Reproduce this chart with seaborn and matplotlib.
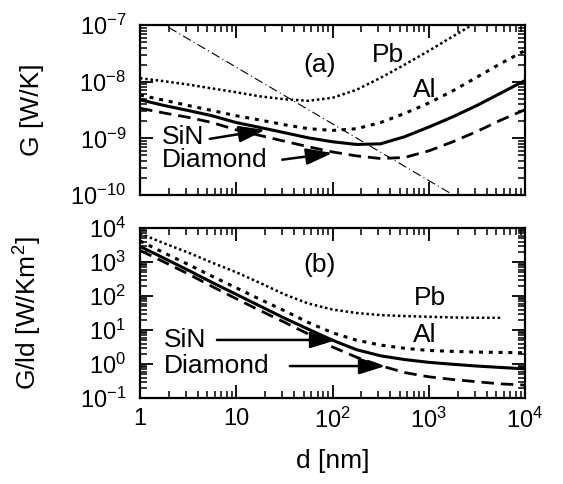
import matplotlib
matplotlib.use("Agg")
import numpy as np
import matplotlib.pyplot as plt
import matplotlib.ticker as mticker
import seaborn as sns

# ------------------------------------------------------------------
#  Data
# ------------------------------------------------------------------
d_nm = [1, 1.78, 3.16, 5.62, 10, 17.8, 31.6, 56.2, 100, 178, 316, 562,
        1000, 1780, 3160, 5620, 10000]

# panel (a): G [W/K]
G_pb = [1.15e-8, 1.02e-8, 8.9e-9, 7.6e-9, 6.5e-9, 5.5e-9, 4.9e-9, 4.6e-9,
        5.2e-9, 7.2e-9, 1.17e-8, 2.0e-8, 3.5e-8, 6.3e-8, 1.12e-7]
G_al = [5.8e-9, 4.7e-9, 3.8e-9, 3.1e-9, 2.5e-9, 2.1e-9, 1.74e-9, 1.48e-9,
        1.38e-9, 1.48e-9, 1.9e-9, 2.75e-9, 4.2e-9, 6.9e-9, 1.2e-8, 2.1e-8, 3.55e-8]
G_sin = [4.8e-9, 3.8e-9, 3.1e-9, 2.5e-9, 1.9e-9, 1.55e-9, 1.26e-9, 1.02e-9,
         8.7e-10, 7.8e-10, 8.0e-10, 1.07e-9, 1.58e-9, 2.4e-9, 3.8e-9, 6.3e-9, 1.05e-8]
G_dia = [3.4e-9, 2.8e-9, 2.35e-9, 1.9e-9, 1.41e-9, 1.12e-9, 8.9e-10, 7.1e-10,
         5.75e-10, 4.9e-10, 4.4e-10, 4.6e-10, 6.0e-10, 8.7e-10, 1.32e-9, 2.1e-9, 3.2e-9]
guide_d = [1, 10000]
guide_G = [1.8e-7, 1.8e-11]

# panel (b): G/ld [W/Km^2]
Gld_pb = [6900, 3550, 1900, 955, 500, 240, 112, 60, 40, 31.6, 27.5, 25.7,
          24.5, 23.4, 22.9, 22.9]
Gld_al = [4170, 1860, 850, 380, 174, 79, 37, 16.6, 8.3, 5.0, 3.6, 2.9,
          2.5, 2.35, 2.24, 2.19, 2.14]
Gld_sin = [2880, 1290, 575, 250, 112, 50, 22.4, 10.5, 5.0, 2.63, 1.74, 1.35,
           1.12, 0.98, 0.87, 0.79, 0.72]
Gld_dia = [2190, 1000, 447, 190, 83, 37, 17, 7.6, 3.16, 1.58, 0.89, 0.56,
           0.42, 0.35, 0.30, 0.26, 0.24]

# ------------------------------------------------------------------
#  Style
# ------------------------------------------------------------------
sns.set_style("ticks")
plt.rcParams["font.family"] = ["Liberation Sans", "DejaVu Sans"]
plt.rcParams["mathtext.fontset"] = "custom"
plt.rcParams["mathtext.rm"] = "Liberation Sans"
plt.rcParams["mathtext.it"] = "Liberation Sans:italic"
for key in ["text.color", "axes.labelcolor", "xtick.color", "ytick.color",
            "axes.edgecolor"]:
    plt.rcParams[key] = "black"
FS = 19    # annotations / axis labels
TS = 17    # tick labels

styles = {
    "Pb":      dict(linestyle=(0, (1, 1.1)), linewidth=1.8),
    "Al":      dict(linestyle=(0, (1.3, 1.9)), linewidth=2.2),
    "SiN":     dict(linestyle="-", linewidth=2.2),
    "Diamond": dict(linestyle=(0, (4.5, 2.5)), linewidth=2.0),
}


def pow10(v, pos):
    e = int(round(np.log10(v)))
    return r"$\mathregular{10^{%d}}$" % e


def xfmt(v, pos):
    e = int(round(np.log10(v)))
    if e == 0:
        return "1"
    if e == 1:
        return "10"
    return r"$\mathregular{10^{%d}}$" % e


def style_axis(ax):
    ax.set_xscale("log")
    ax.set_yscale("log")
    ax.set_xlim(1, 1e4)
    ax.xaxis.set_major_locator(mticker.LogLocator(base=10, numticks=10))
    ax.xaxis.set_minor_locator(mticker.LogLocator(base=10, subs=np.arange(2, 10), numticks=50))
    ax.yaxis.set_major_locator(mticker.LogLocator(base=10, numticks=10))
    ax.yaxis.set_minor_locator(mticker.LogLocator(base=10, subs=np.arange(2, 10), numticks=50))
    ax.yaxis.set_major_formatter(mticker.FuncFormatter(pow10))
    ax.tick_params(which="both", direction="in", top=True, right=True,
                   color="black", labelcolor="black", labelsize=TS)
    ax.tick_params(which="major", length=9.5, width=1.3)
    ax.tick_params(which="minor", length=5, width=1.1)
    ax.tick_params(axis="y", pad=10)
    ax.tick_params(axis="x", pad=7)
    for s in ax.spines.values():
        s.set_linewidth(1.6)
        s.set_color("black")


arrow = dict(arrowstyle="-|>,head_length=0.8,head_width=0.25", color="black",
             lw=1.8, mutation_scale=20, shrinkA=0, shrinkB=0)

fig = plt.figure(figsize=(5.63, 4.84), dpi=100)
ax_a = fig.add_axes([0.2487, 0.5971, 0.6838, 0.3512])
ax_b = fig.add_axes([0.2487, 0.1777, 0.6838, 0.3512])

# ---------------- panel (a) ----------------
sns.lineplot(x=d_nm[:len(G_pb)], y=G_pb, ax=ax_a, color="black", **styles["Pb"])
sns.lineplot(x=d_nm, y=G_al, ax=ax_a, color="black", **styles["Al"])
sns.lineplot(x=d_nm, y=G_sin, ax=ax_a, color="black", **styles["SiN"])
sns.lineplot(x=d_nm, y=G_dia, ax=ax_a, color="black", **styles["Diamond"])
sns.lineplot(x=guide_d, y=guide_G, ax=ax_a, color="black", linewidth=0.8,
             linestyle=(0, (8, 3, 1, 3)))
style_axis(ax_a)
ax_a.set_ylim(1e-10, 1e-7)
ax_a.set_xticklabels([])
ax_a.set_ylabel("G [W/K]", fontsize=FS)
ax_a.yaxis.set_label_coords(-0.25, 0.5)

ax_a.text(74, 2.0e-8, "(a)", fontsize=FS, ha="center", va="center")
ax_a.text(380, 2.95e-8, "Pb", fontsize=FS, ha="center", va="center")
ax_a.text(912, 7.1e-9, "Al", fontsize=FS, ha="center", va="center")
ax_a.text(1.7, 1.04e-9, "SiN", fontsize=FS, ha="left", va="center")
ax_a.text(1.7, 4.2e-10, "Diamond", fontsize=FS, ha="left", va="center")
ax_a.annotate("", xy=(20, 1.41e-9), xytext=(5.3, 9.8e-10), arrowprops=arrow)
ax_a.annotate("", xy=(100, 5.5e-10), xytext=(30, 4.2e-10), arrowprops=arrow)

# ---------------- panel (b) ----------------
sns.lineplot(x=d_nm[:len(Gld_pb)], y=Gld_pb, ax=ax_b, color="black", **styles["Pb"])
sns.lineplot(x=d_nm, y=Gld_al, ax=ax_b, color="black", **styles["Al"])
sns.lineplot(x=d_nm, y=Gld_sin, ax=ax_b, color="black", **styles["SiN"])
sns.lineplot(x=d_nm, y=Gld_dia, ax=ax_b, color="black", **styles["Diamond"])
style_axis(ax_b)
ax_b.set_ylim(1e-1, 1e4)
ax_b.xaxis.set_major_formatter(mticker.FuncFormatter(xfmt))
ax_b.set_ylabel(r"G/ld [W/Km$^2$]", fontsize=FS)
ax_b.yaxis.set_label_coords(-0.25, 0.5)
ax_b.set_xlabel("d [nm]", fontsize=FS)
ax_b.xaxis.set_label_coords(0.5, -0.30)

ax_b.text(74, 813, "(b)", fontsize=FS, ha="center", va="center")
ax_b.text(1020, 87, "Pb", fontsize=FS, ha="center", va="center")
ax_b.text(912, 7.1, "Al", fontsize=FS, ha="center", va="center")
ax_b.text(1.78, 5.1, "SiN", fontsize=FS, ha="left", va="center")
ax_b.text(1.78, 0.87, "Diamond", fontsize=FS, ha="left", va="center")
ax_b.annotate("", xy=(110, 5.1), xytext=(6.3, 5.1), arrowprops=arrow)
ax_b.annotate("", xy=(355, 0.87), xytext=(36, 0.87), arrowprops=arrow)

fig.savefig("out.png", dpi=100)
